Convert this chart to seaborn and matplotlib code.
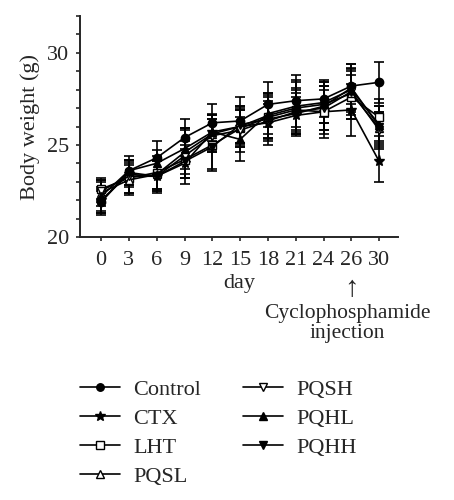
import numpy as np
import pandas as pd
import seaborn as sns
import matplotlib.pyplot as plt
from matplotlib.ticker import MultipleLocator

days = ['0', '3', '6', '9', '12', '15', '18', '21', '24', '26', '30']
groups = ['Control', 'CTX', 'LHT', 'PQSL', 'PQSH', 'PQHL', 'PQHH']

# mean body weight (g)
control = [21.9, 23.6, 24.3, 25.4, 26.2, 26.3, 27.2, 27.4, 27.5, 28.2, 28.4]
ctx     = [22.0, 23.4, 23.3, 24.0, 25.7, 26.0, 26.2, 26.6, 26.8, 26.9, 24.1]
lht     = [22.6, 23.2, 23.5, 24.2, 25.0, 25.9, 26.5, 26.9, 26.8, 27.6, 26.5]
pqsl    = [22.4, 23.1, 23.4, 24.6, 25.6, 26.0, 26.6, 27.0, 27.2, 27.8, 25.9]
pqsh    = [22.5, 23.3, 23.3, 24.4, 25.5, 25.8, 26.3, 26.8, 27.0, 27.9, 25.8]
pqhl    = [22.2, 23.6, 24.0, 24.8, 25.7, 25.3, 26.7, 27.1, 27.3, 28.0, 26.1]
pqhh    = [21.9, 23.5, 23.3, 24.1, 24.9, 26.1, 26.4, 26.7, 27.1, 28.1, 26.0]

# standard deviations
control_sd = [0.6, 0.6, 0.9, 1.0, 1.0, 1.3, 1.2, 1.4, 1.0, 1.0, 1.1]
ctx_sd     = [0.7, 0.7, 0.8, 0.8, 0.9, 0.9, 1.0, 1.0, 1.2, 1.4, 1.1]
lht_sd     = [0.6, 0.8, 0.9, 1.0, 1.4, 1.0, 1.2, 1.2, 1.4, 1.2, 1.0]
pqsl_sd    = [0.7, 0.8, 0.8, 1.2, 1.0, 1.1, 1.2, 1.5, 1.0, 1.2, 0.9]
pqsh_sd    = [0.6, 0.9, 0.9, 1.5, 0.9, 1.2, 1.3, 1.2, 1.2, 1.5, 1.0]
pqhl_sd    = [0.8, 0.8, 0.7, 1.1, 1.0, 1.2, 1.1, 1.3, 1.1, 1.1, 1.0]
pqhh_sd    = [0.7, 0.7, 0.8, 0.9, 1.2, 1.0, 1.0, 1.1, 1.3, 1.3, 1.1]

means = [control, ctx, lht, pqsl, pqsh, pqhl, pqhh]
sds = [control_sd, ctx_sd, lht_sd, pqsl_sd, pqsh_sd, pqhl_sd, pqhh_sd]
markers = ['o', '*', 's', '^', 'v', '^', 'v']
faces = ['k', 'k', 'w', 'w', 'w', 'k', 'k']

sns.set_style("ticks")
plt.rcParams['font.family'] = ['Liberation Serif', 'DejaVu Serif']
plt.rcParams['font.size'] = 16

fig = plt.figure(figsize=(4.54, 5.0), dpi=100)
ax = fig.add_axes([0.176, 0.526, 0.701, 0.442])

pos = np.arange(len(days))
for name, m, s, mk, fc in zip(groups, means, sds, markers, faces):
    ax.errorbar(pos, m, yerr=s, fmt='none', ecolor='k', elinewidth=1.2,
                capsize=3.5, capthick=1.2, zorder=2)
    d = pd.DataFrame({'pos': pos, 'weight': m})
    sns.lineplot(data=d, x='pos', y='weight', ax=ax, color='k', lw=1.2,
                 marker=mk, markersize=8 if mk == '*' else 6,
                 markerfacecolor=fc, markeredgecolor='k', markeredgewidth=1,
                 label=name, zorder=3)

ax.set_xlim(-0.76, 10.68)
ax.set_ylim(20, 32)
ax.set_xticks(pos)
ax.set_xticklabels(days)
ax.set_yticks([20, 25, 30])
ax.yaxis.set_minor_locator(MultipleLocator(1))
ax.tick_params(axis='both', which='major', length=3, width=1.2, labelsize=16)
ax.tick_params(axis='y', which='minor', length=3, width=1.2)
ax.tick_params(axis='x', pad=7)
ax.tick_params(axis='y', pad=5)
ax.set_xlabel('day', fontsize=16, labelpad=3)
ax.set_ylabel('Body weight (g)', fontsize=16, labelpad=5)
for sp in ['left', 'bottom']:
    ax.spines[sp].set_linewidth(1.4)
sns.despine(ax=ax)

fig.text(351 / 454, 1 - 289 / 500, '\u2191', ha='center', va='center', fontsize=21)
fig.text(347 / 454, 1 - 304 / 500, 'Cyclophosphamide\ninjection', ha='center',
         va='top', fontsize=15.5, linespacing=1.1)

handles, labels = ax.get_legend_handles_labels()
ax.get_legend().remove()
fig.legend(handles, labels, ncol=2, loc='upper left',
           bbox_to_anchor=(80 / 454, 1 - 379 / 500), frameon=False,
           fontsize=16, handlelength=1.8, handletextpad=0.6,
           columnspacing=1.9, labelspacing=0.38, borderpad=0, borderaxespad=0,
           markerscale=0.9)

plt.savefig('out.png', dpi=100)
